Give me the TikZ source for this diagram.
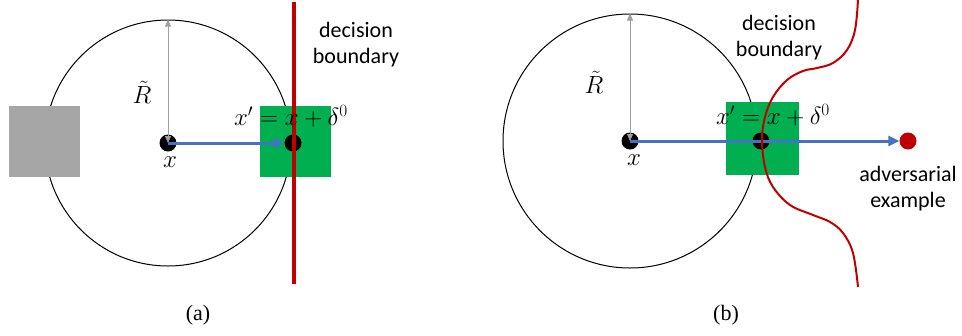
\documentclass[tikz,border=0pt]{standalone}
\usepackage{fontspec}
\setmainfont{Liberation Serif}
\newfontfamily\labelfont{Carlito}
\usetikzlibrary{arrows.meta}

\definecolor{boxgreen}{HTML}{00B050}
\definecolor{boxgray}{HTML}{A6A6A6}
\definecolor{bndred}{HTML}{C00000}
\definecolor{arrblue}{HTML}{4472C4}

\tikzset{
  pointdot/.style={circle, fill=black, inner sep=0pt, minimum size=17pt},
  ring/.style={circle, draw=black, line width=1pt, inner sep=0pt},
  sqbox/.style={inner sep=0pt, minimum size=71pt},
  radiusarrow/.style={{Triangle[length=7pt,width=6pt]}-{Triangle[length=7pt,width=6pt]}, draw=gray!75, line width=0.9pt},
  shiftarrow/.style={-{Triangle[length=11pt,width=10pt]}, draw=arrblue, line width=3pt},
  bndline/.style={draw=bndred, line width=3.5pt},
  sanslabel/.style={font=\labelfont\fontsize{22}{26}\selectfont, align=center},
  mathlabel/.style={font=\fontsize{24.5}{28}\selectfont, inner sep=1pt},
}

\begin{document}
\begin{tikzpicture}[x=1pt, y=-1pt]
  \useasboundingbox (0,0) rectangle (962,335);

  % (a) linearer Rand
  \node[ring, minimum size=246pt] (ringa) at (168,143) {};
  \node[sqbox, fill=boxgray] (graysq) at (44.5,141.5) {};
  \node[sqbox, fill=boxgreen] (greena) at (295,141.5) {};
  \node[pointdot] (xa) at (168,143) {};
  \node[pointdot] (xpa) at (293,143) {};
  \draw[radiusarrow] (xa.center) -- (ringa.north);
  \draw[shiftarrow] (xa.center) -- (xpa.west);
  \coordinate (bndtopa) at (294,2);
  \coordinate (bndbota) at (294,284);
  \draw[bndline] (bndtopa) -- (bndbota);
  \node[mathlabel] (Rla) at (142,92) {$\tilde{R}$};
  \node[mathlabel] (xla) at (170,162) {$x$};
  \node[mathlabel] (xpla) at (291,116) {$x' = x + \delta^0$};
  \node[sanslabel] (dba) at (356,45) {decision\\boundary};
  \node[font=\fontsize{22}{26}\selectfont] (capa) at (198,315) {(a)};

  % (b) gekruemmter Rand
  \node[ring, minimum size=254pt] (ringb) at (630,141) {};
  \node[sqbox, minimum size=73pt, fill=boxgreen] (greenb) at (762.5,138.5) {};
  \node[pointdot] (xb) at (630,141) {};
  \node[pointdot] (xpb) at (761,141) {};
  \node[pointdot, fill=bndred] (advb) at (908,141) {};
  \draw[radiusarrow] (xb.center) -- (ringb.north);
  \draw[shiftarrow] (xb.center) -- (advb.west);
  \draw[bndline, line width=2pt] plot[smooth, tension=0.6] coordinates {
    (858,0) (855,30) (847,50) (833,63) (817,68) (803,71) (787,80)
    (773,97) (765,117) (762,140) (765,167) (773,187) (790,205)
    (813,215) (830,222) (843,233) (853,253) (858,287)};
  \node[mathlabel] (Rlb) at (594,82) {$\tilde{R}$};
  \node[mathlabel] (xlb) at (634,160) {$x$};
  \node[mathlabel] (xplb) at (773,115) {$x' = x + \delta^0$};
  \node[sanslabel] (dbb) at (779,38) {decision\\boundary};
  \node[sanslabel] (advl) at (908,189) {adversarial\\example};
  \node[font=\fontsize{22}{26}\selectfont] (capb) at (726,315) {(b)};
\end{tikzpicture}
\end{document}
